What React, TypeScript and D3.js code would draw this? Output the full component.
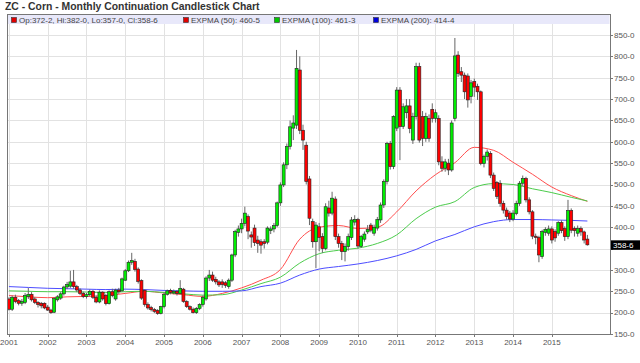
import React from 'react'
import * as d3 from 'd3'

// monthly candles, Jan 2001 .. Dec 2015 (cents / bushel)
const years = ['2001', '2002', '2003', '2004', '2005', '2006', '2007', '2008', '2009', '2010', '2011', '2012', '2013', '2014', '2015']
const priceTicks = [150, 200, 250, 300, 350, 400, 450, 500, 550, 600, 650, 700, 750, 800, 850]

const opens = [
  232, 208, 236, 228, 222, 224, 238, 243, 232, 224, 222, 222,
  213, 206, 201, 230, 234, 244, 260, 262, 272, 261, 253, 245,
  238, 242, 250, 236, 225, 248, 240, 221, 249, 232, 253, 251,
  276, 298, 318, 320, 302, 275, 252, 219, 212, 207, 205, 198,
  214, 243, 252, 246, 250, 245, 255, 226, 214, 208, 200, 210,
  219, 232, 281, 288, 278, 272, 272, 270, 261, 276, 335, 388,
  396, 409, 425, 382, 398, 370, 366, 366, 365, 392, 396, 404,
  457, 499, 546, 589, 632, 639, 768, 627, 592, 513, 413, 366,
  401, 378, 350, 445, 433, 466, 378, 362, 343, 355, 376, 412,
  418, 355, 372, 389, 405, 386, 398, 417, 452, 507, 596, 542,
  632, 721, 636, 668, 684, 604, 659, 776, 659, 608, 655, 676,
  655, 655, 553, 538, 550, 534, 655, 803, 764, 756, 754, 706,
  741, 730, 717, 549, 566, 573, 522, 505, 503, 456, 440, 433,
  419, 432, 456, 503, 514, 464, 436, 379, 376, 331, 388, 386,
  396, 390, 386, 411, 397, 378, 439, 397, 386, 397, 389, 372.25,
]
const highs = [
  236, 240, 242, 232, 232, 246, 258, 248, 236, 227, 225, 224,
  218, 209, 236, 241, 248, 263, 272, 298, 300, 265, 257, 249,
  246, 254, 253, 240, 252, 250, 244, 252, 256, 256, 258, 282,
  302, 322, 340, 326, 306, 278, 255, 224, 216, 211, 208, 216,
  247, 254, 256, 254, 253, 276, 258, 229, 217, 212, 213, 222,
  240, 285, 300, 296, 284, 276, 278, 274, 280, 338, 394, 404,
  420, 448, 430, 390, 406, 380, 372, 372, 402, 402, 410, 460,
  505, 552, 596, 650, 662, 815, 800, 640, 600, 520, 420, 412,
  410, 386, 456, 462, 483, 472, 385, 368, 362, 385, 424, 428,
  422, 382, 390, 405, 410, 406, 424, 458, 512, 600, 602, 662,
  728, 728, 690, 700, 700, 668, 785, 785, 672, 668, 664, 690,
  676, 662, 566, 560, 560, 650, 843, 812, 775, 762, 760, 745,
  748, 736, 720, 570, 582, 578, 528, 508, 510, 462, 446, 438,
  440, 462, 508, 521, 518, 470, 440, 385, 380, 394, 400, 404,
  402, 395, 414, 416, 402, 464, 444, 402, 404, 402, 392, 382,
]
const lows = [
  205, 204, 222, 217, 216, 220, 232, 226, 220, 212, 210, 208,
  204, 197, 199, 226, 230, 240, 255, 258, 256, 248, 241, 234,
  233, 238, 232, 222, 222, 228, 217, 219, 236, 228, 244, 249,
  274, 295, 312, 296, 268, 230, 214, 207, 203, 199, 195, 196,
  210, 240, 243, 243, 240, 243, 223, 211, 205, 198, 197, 206,
  214, 228, 274, 272, 266, 260, 258, 258, 256, 272, 330, 378,
  386, 402, 372, 352, 356, 340, 338, 350, 360, 384, 388, 400,
  450, 494, 536, 582, 604, 630, 618, 581, 500, 405, 352, 304,
  344, 340, 346, 425, 428, 370, 352, 323, 320, 345, 370, 404,
  350, 352, 366, 384, 388, 380, 392, 410, 445, 500, 535, 536,
  625, 557, 630, 655, 620, 595, 652, 598, 590, 600, 600, 645,
  645, 545, 530, 530, 522, 530, 648, 752, 740, 700, 680, 690,
  705, 698, 545, 540, 556, 515, 485, 466, 448, 432, 418, 412,
  414, 428, 450, 496, 458, 430, 372, 360, 318, 326, 380, 380,
  362, 366, 380, 386, 368, 372, 386, 378, 378, 380, 362, 357,
]
const closes = [
  208, 236, 226, 222, 226, 240, 243, 230, 224, 219, 216, 211,
  206, 200, 233, 237, 244, 260, 266, 272, 261, 253, 245, 238,
  242, 250, 236, 225, 248, 232, 221, 249, 240, 253, 249, 279,
  298, 318, 322, 301, 273, 234, 219, 211, 207, 203, 198, 214,
  243, 251, 247, 250, 245, 257, 226, 214, 208, 200, 210, 219,
  236, 281, 288, 276, 272, 265, 266, 264, 276, 335, 390, 396,
  409, 433, 391, 377, 364, 362, 358, 362, 398, 396, 404, 457,
  499, 546, 589, 635, 644, 772, 627, 604, 507, 421, 366, 405,
  376, 350, 448, 433, 468, 378, 362, 343, 355, 378, 417, 418,
  356, 378, 384, 395, 393, 400, 418, 452, 507, 596, 542, 659,
  721, 636, 682, 684, 631, 659, 776, 604, 608, 659, 608, 655,
  668, 553, 538, 553, 534, 644, 801, 760, 756, 717, 698, 738,
  728, 717, 549, 566, 576, 522, 491, 472, 456, 440, 425, 419,
  433, 456, 503, 514, 464, 436, 379, 376, 335, 390, 395, 396,
  370, 375, 411, 392, 378, 439, 393, 392, 397, 389, 370, 358.75,
]

// moving averages at every 6th month
const emaMonths = [0, 6, 12, 18, 24, 30, 36, 42, 48, 54, 60, 66, 72, 78, 84, 90, 96, 102, 108, 114, 120, 126, 132, 138, 144, 150, 156, 162, 168, 174, 179]
const ema50 = [240, 237, 235, 237, 238, 240, 245, 250, 246, 242, 238, 245, 258, 276, 301, 372, 400, 404, 397, 400, 436, 485, 523, 551, 587, 580, 552, 524, 494, 474, 460.625]
const ema100 = [251, 250, 249, 249, 248, 247, 249, 250, 247, 244, 241, 242, 253, 268, 283, 316, 338, 346, 351, 362, 382, 420, 447, 460, 493, 502, 500, 490, 481, 470, 461.375]
const ema200 = [261, 259, 257, 256, 255, 254, 255, 254, 252, 251, 250, 250, 251, 261, 269, 288, 302, 308, 314, 322, 333, 348, 368, 383, 401, 413, 418, 418, 417, 416, 414.5]

const legendLabels = ['EXPMA (50): ', 'EXPMA (100): ', 'EXPMA (200): ']
const legendColors = ['#e00000', '#00c800', '#0000dd']
const lineColors = ['#ff4d4d', '#4ccc4c', '#4d4dff']

const width = 640
const height = 363
const plot = { left: 7, right: 610, top: 14, bottom: 334 }
const font = 'Liberation Sans, Arial, sans-serif'

// corn is quoted in eighths of a cent
const fmt = (v: number) => {
  const whole = Math.floor(v)
  return `${whole}-${Math.round((v - whole) * 8)}`
}

export default function App() {
  const n = closes.length
  const x = d3.scaleLinear().domain([-0.6, 186]).range([plot.left, plot.right])
  const y = d3.scaleLinear().domain([150, 850]).range([plot.bottom, 35])

  const line = (vals: number[]) =>
    d3.line<number>()
      .x((_, k) => x(emaMonths[k]))
      .y((d) => y(d))
      .curve(d3.curveMonotoneX)(vals) || ''

  const last = n - 1
  const lastY = y(closes[last])
  const legendTexts = [
    `Op:${fmt(opens[last])}, Hi:${fmt(highs[last])}, Lo:${fmt(lows[last])}, Cl:${fmt(closes[last])}`,
    legendLabels[0] + fmt(ema50[ema50.length - 1]),
    legendLabels[1] + fmt(ema100[ema100.length - 1]),
    legendLabels[2] + fmt(ema200[ema200.length - 1]),
  ]
  const legendX = [11, 183, 274, 373]
  const legendSq = ['#e00000', ...legendColors]

  const bodyW = 3

  return (
    <svg width={width} height={height} style={{ position: 'absolute', left: 0, top: 0, background: '#fff' }} fontFamily={font}>
      <text x={5} y={10} fontSize={10.4} fontWeight="bold" fill="#333">ZC - Corn - Monthly Continuation Candlestick Chart</text>

      {/* grid */}
      {priceTicks.map((p) => (
        <line key={'h' + p} x1={plot.left} x2={plot.right} y1={Math.round(y(p)) + 0.5} y2={Math.round(y(p)) + 0.5} stroke="#e2e2e2" />
      ))}
      {years.map((yr, k) => (
        <line key={'v' + yr} x1={Math.round(x(k * 12)) + 0.5} x2={Math.round(x(k * 12)) + 0.5} y1={plot.top} y2={plot.bottom} stroke="#e2e2e2" />
      ))}

      {/* legend band */}
      <rect x={plot.left + 0.5} y={plot.top + 0.5} width={plot.right - plot.left - 1} height={9.5} fill="#e8e8fa" />
      {legendTexts.map((t, k) => (
        <g key={'lg' + k}>
          <rect x={legendX[k] + 0.5} y={17.5} width={5} height={5} fill={legendSq[k]} stroke="#333" strokeWidth={0.6} />
          <text x={legendX[k] + 8} y={22.5} fontSize={8} fill="#444">{t}</text>
        </g>
      ))}

      {/* moving averages */}
      <path d={line(ema50)} fill="none" stroke={lineColors[0]} strokeWidth={1} />
      <path d={line(ema100)} fill="none" stroke={lineColors[1]} strokeWidth={1} />
      <path d={line(ema200)} fill="none" stroke={lineColors[2]} strokeWidth={1} />

      {/* candles */}
      {closes.map((c, i) => {
        const o = opens[i]
        const cx = x(i)
        const top = y(Math.max(o, c))
        const bot = y(Math.min(o, c))
        const up = c >= o
        return (
          <g key={'c' + i}>
            <line x1={cx} x2={cx} y1={y(highs[i])} y2={y(lows[i])} stroke="#666" strokeWidth={1} />
            <rect x={cx - bodyW / 2} y={top} width={bodyW} height={Math.max(1, bot - top)} fill={up ? '#00ee00' : '#ff0000'} stroke="#222" strokeWidth={0.6} />
          </g>
        )
      })}

      {/* frame */}
      <rect x={plot.left + 0.5} y={plot.top + 0.5} width={plot.right - plot.left} height={plot.bottom - plot.top} fill="none" stroke="#777" />

      {/* right axis; the label hidden by the last-price marker is skipped */}
      {priceTicks.map((p) => (
        <g key={'yl' + p}>
          <line x1={plot.right} x2={plot.right + 3} y1={Math.round(y(p)) + 0.5} y2={Math.round(y(p)) + 0.5} stroke="#777" />
          {Math.abs(y(p) - lastY) > 9 && (
            <text x={plot.right + 4} y={y(p)} dy="0.35em" fontSize={8} fill="#555">{fmt(p)}</text>
          )}
        </g>
      ))}

      {/* bottom axis */}
      {years.map((yr, k) => (
        <g key={'xl' + yr}>
          <line x1={Math.round(x(k * 12)) + 0.5} x2={Math.round(x(k * 12)) + 0.5} y1={plot.bottom} y2={plot.bottom + 3} stroke="#777" />
          <text x={x(k * 12)} y={345} textAnchor="middle" fontSize={8} fill="#555">{yr}</text>
        </g>
      ))}

      {/* last price marker */}
      <rect x={plot.right + 1} y={lastY - 4.5} width={29} height={9.5} fill="#000" />
      <text x={plot.right + 3} y={lastY} dy="0.38em" fontSize={8} fill="#fff">{fmt(closes[last])}</text>
    </svg>
  )
}
